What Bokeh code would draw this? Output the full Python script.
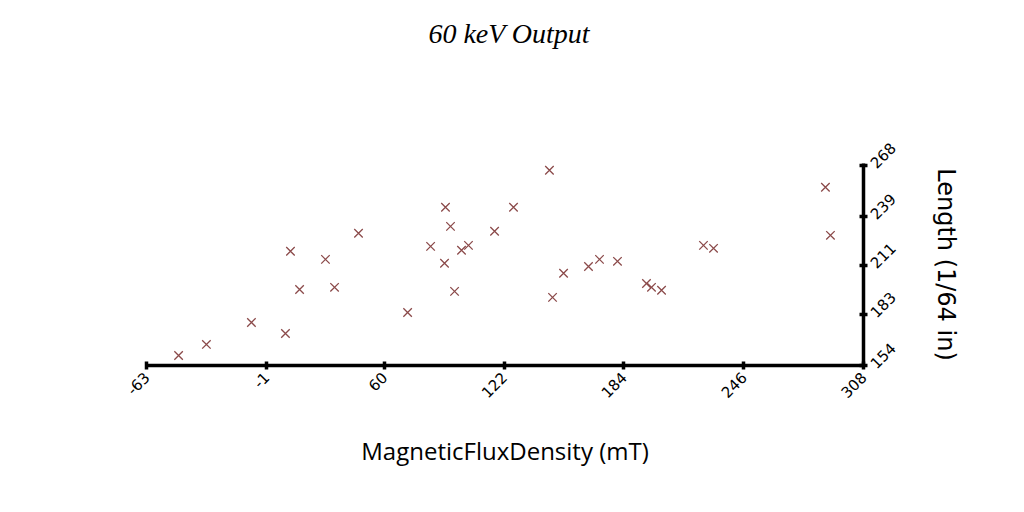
from bokeh.plotting import figure
from bokeh.models import Div, FixedTicker, Range1d
from bokeh.layouts import column
from bokeh.embed import file_html
from bokeh.resources import INLINE

flux = [-46.4, -32.0, -8.7, 8.9, 11.5, 16.2, 29.6, 34.3, 46.7, 72.1, 84.0, 91.7,
        91.2, 94.3, 96.4, 100.0, 103.6, 117.1, 126.9, 145.5, 147.1, 152.8, 165.7,
        171.4, 180.7, 195.7, 198.3, 203.5, 225.2, 230.4, 288.3, 290.9]
length = [159.7, 166.0, 178.5, 172.2, 219.0, 197.3, 214.4, 198.5, 229.3, 184.2, 221.8, 244.1,
          212.2, 233.2, 196.2, 219.6, 222.4, 230.4, 244.1, 265.2, 192.8, 206.5, 210.4,
          214.4, 213.3, 200.7, 198.5, 196.8, 222.4, 220.7, 255.5, 228.1]
x_ticks = [-63, -1, 60, 122, 184, 246, 308]
y_ticks = [154, 183, 211, 239, 268]

title = Div(text="60 keV Output", width=1008, height=40,
            styles={"font-family": "Liberation Serif", "font-style": "italic",
                    "font-size": "28px", "text-align": "center", "width": "1008px",
                    "margin-top": "14px"})

p = figure(width=1008, height=448, output_backend="svg", toolbar_location=None,
           x_range=Range1d(-63, 308), y_range=Range1d(154, 269),
           y_axis_location="right",
           min_border_left=146, min_border_right=145, min_border_top=104, min_border_bottom=142)
p.outline_line_color = None
p.grid.visible = False

p.scatter(flux, length, marker="x", size=12, line_width=1.3, color="#8b4a4a")

p.xaxis.ticker = FixedTicker(ticks=x_ticks)
p.yaxis.ticker = FixedTicker(ticks=y_ticks)
p.xaxis.major_label_overrides = {t: str(t) for t in x_ticks}
for ax in (p.xaxis, p.yaxis):
    ax.axis_line_width = 3.5
    ax.major_tick_line_width = 3.5
    ax.major_tick_in = 4
    ax.major_tick_out = 4
    ax.minor_tick_line_color = None
    ax.major_label_orientation = 0.785
    ax.major_label_text_font = "DejaVu Sans"
    ax.major_label_text_font_size = "15px"
    ax.major_label_text_color = "black"
    ax.axis_label_text_color = "black"
    ax.axis_label_text_font_style = "normal"
p.xaxis.axis_label = "MagneticFluxDensity (mT)"
p.xaxis.axis_label_text_font = "Open Sans"
p.xaxis.axis_label_text_font_size = "24px"
p.xaxis.axis_label_standoff = 28
p.yaxis.axis_label = "Length (1/64 in)"
p.yaxis.axis_label_text_font = "DejaVu Sans"
p.yaxis.axis_label_text_font_size = "24px"
p.yaxis.axis_label_orientation = "vertical"
p.yaxis.axis_label_standoff = 28

layout = column(title, p, spacing=0)
open("out.html", "w").write(file_html(layout, INLINE))
